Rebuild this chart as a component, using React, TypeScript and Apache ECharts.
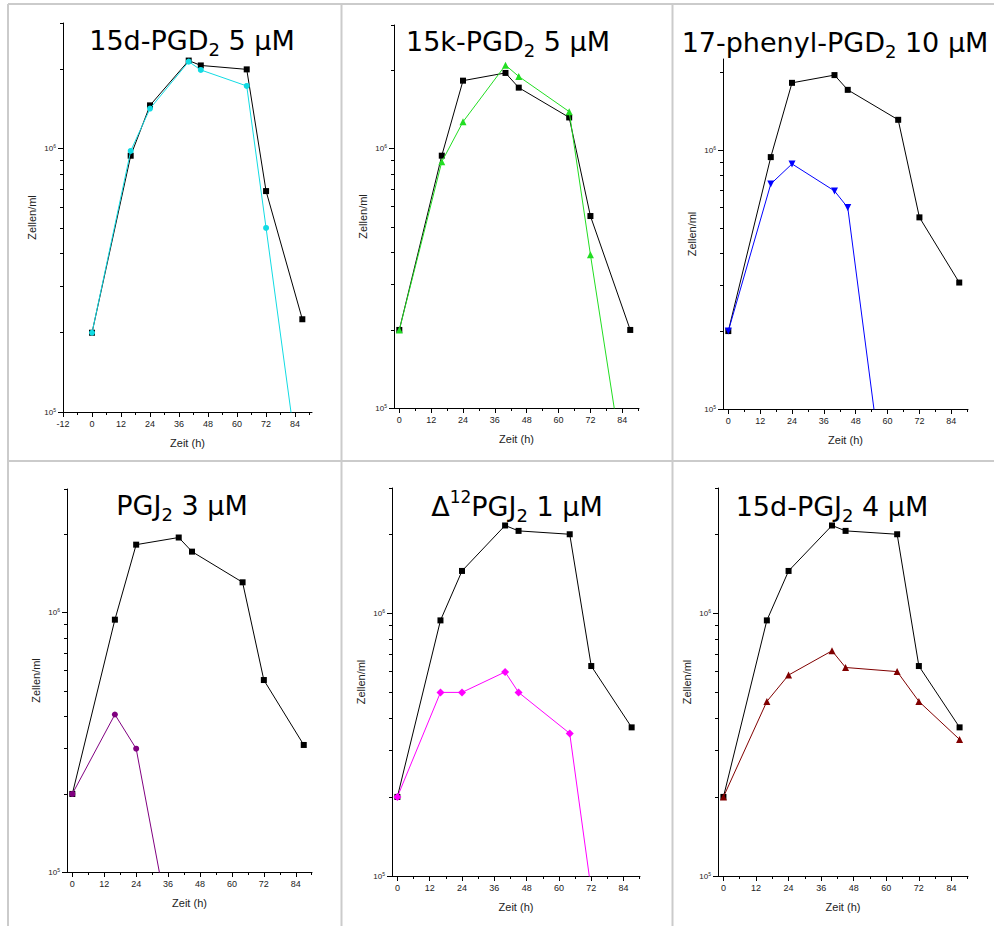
import React, { useEffect, useRef } from 'react';
import * as echarts from 'echarts';

// ---- data (cells/ml vs. hours) ----
const hours = [0, 16, 24, 40, 45, 64, 72, 87];

const control1 = [2.0e5, 9.4e5, 1.46e6, 2.16e6, 2.07e6, 2.0e6, 6.9e5, 2.25e5];
const treated1 = [2.0e5, 9.8e5, 1.42e6, 2.14e6, 1.99e6, 1.73e6, 5.0e5, 4.8e4];

const control2 = [2.0e5, 9.4e5, 1.83e6, 1.96e6, 1.72e6, 1.32e6, 5.5e5, 2.0e5];
const treated2 = [2.0e5, 8.9e5, 1.27e6, 2.1e6, 1.9e6, 1.39e6, 3.9e5, 4.0e4];

const control3 = [2.0e5, 9.4e5, 1.82e6, 1.95e6, 1.71e6, 1.31e6, 5.5e5, 3.08e5];
const treatedHours3 = [0, 16, 24, 40, 45, 64];
const treated3 = [2.0e5, 7.4e5, 8.85e5, 6.96e5, 6.0e5, 1.9e4];

const control4 = [2.0e5, 9.4e5, 1.83e6, 1.95e6, 1.72e6, 1.31e6, 5.5e5, 3.09e5];
const treatedHours4 = [0, 16, 24, 40];
const treated4 = [2.0e5, 4.05e5, 2.99e5, 4.0e4];

const control5 = [2.0e5, 9.4e5, 1.45e6, 2.16e6, 2.06e6, 2.0e6, 6.3e5, 3.68e5];
const treatedHours5 = [0, 16, 24, 40, 45, 64, 72];
const treated5 = [2.0e5, 5.0e5, 5.0e5, 5.98e5, 5.0e5, 3.49e5, 8.8e4];

const control6 = [2.0e5, 9.4e5, 1.45e6, 2.16e6, 2.06e6, 2.0e6, 6.3e5, 3.68e5];
const treated6 = [2.0e5, 4.62e5, 5.82e5, 7.2e5, 6.22e5, 6.0e5, 4.62e5, 3.31e5];

// ---- tick values ----
const xTickLabels = [0, 12, 24, 36, 48, 60, 72, 84];
const xTickLabelsWide = [-12, 0, 12, 24, 36, 48, 60, 72, 84];
const xMinorTicks = [6, 18, 30, 42, 54, 66, 78, 90];
const xMinorTicksWide = [-6, 6, 18, 30, 42, 54, 66, 78, 90];
const yMajorTicks = [1e5, 1e6];
const yMinorTicks = [2e5, 3e5, 4e5, 5e5, 6e5, 7e5, 8e5, 9e5, 2e6, 3e6];

const titles = [
  '{m|15d-PGD}{s|2}{m| 5 µM}',
  '{m|15k-PGD}{s|2}{m| 5 µM}',
  '{m|17-phenyl-PGD}{s|2}{m| 10 µM}',
  '{m|PGJ}{s|2}{m| 3 µM}',
  '{m|Δ}{p|12}{m|PGJ}{s|2}{m| 1 µM}',
  '{m|15d-PGJ}{s|2}{m| 4 µM}',
];

const panels = [
  { grid: [63, 23, 249, 389], xMin: -12, xMax: 91, yMax: 3e6, wide: true, tx: 192, ty: 40,
    ctrl: control1, tH: hours, tr: treated1, color: '#12dbe3', symbol: 'circle', rot: 0, size: 6 },
  { grid: [394, 25, 245, 383], xMin: -2, xMax: 90.3, yMax: 3e6, wide: false, tx: 508, ty: 41,
    ctrl: control2, tH: hours, tr: treated2, color: '#22dd22', symbol: 'triangle', rot: 0, size: 7 },
  { grid: [723, 59, 245, 350], xMin: -2, xMax: 90.3, yMax: 2.25e6, wide: false, tx: 835, ty: 42,
    ctrl: control3, tH: treatedHours3, tr: treated3, color: '#0000ff', symbol: 'triangle', rot: 180, size: 7 },
  { grid: [67, 489, 245, 383], xMin: -2, xMax: 90.1, yMax: 3e6, wide: false, tx: 182, ty: 505,
    ctrl: control4, tH: treatedHours4, tr: treated4, color: '#800080', symbol: 'circle', rot: 0, size: 6 },
  { grid: [392, 488, 248, 388], xMin: -2, xMax: 90.1, yMax: 3e6, wide: false, tx: 517, ty: 506,
    ctrl: control5, tH: treatedHours5, tr: treated5, color: '#ff00ff', symbol: 'diamond', rot: 0, size: 8 },
  { grid: [718, 488, 250, 388], xMin: -2, xMax: 90.1, yMax: 3e6, wide: false, tx: 832, ty: 506,
    ctrl: control6, tH: hours, tr: treated6, color: '#800000', symbol: 'triangle', rot: 0, size: 7 },
];

const FONT = 'Liberation Sans, Arial, sans-serif';
const TXT = '#222';

function buildOption() {
  const grid: any[] = [];
  const xAxis: any[] = [];
  const yAxis: any[] = [];
  const series: any[] = [];
  const graphic: any[] = [];

  const borderLines = [
    [8, 4, 994, 4],
    [8, 4, 8, 926],
    [341.5, 4, 341.5, 926],
    [672.5, 4, 672.5, 926],
    [8, 461, 994, 461],
  ];
  borderLines.forEach(([x1, y1, x2, y2]) =>
    graphic.push({
      type: 'line',
      shape: { x1, y1, x2, y2 },
      style: { stroke: '#cbcbcb', lineWidth: 2 },
      silent: true,
    })
  );

  panels.forEach((p, i) => {
    const [left, top, width, height] = p.grid;
    grid.push({ left, top, width, height, containLabel: false });

    // main x axis
    xAxis.push({
      type: 'value', gridIndex: i, min: p.xMin, max: p.xMax, position: 'bottom',
      name: 'Zeit (h)', nameLocation: 'middle', nameGap: 25,
      nameTextStyle: { fontSize: 11, fontFamily: FONT, color: TXT },
      axisLine: { onZero: false, lineStyle: { color: '#000', width: 1 } },
      axisTick: { customValues: p.wide ? xTickLabelsWide : xTickLabels, length: 5, lineStyle: { color: '#000' } },
      axisLabel: { customValues: p.wide ? xTickLabelsWide : xTickLabels, fontSize: 9, fontFamily: FONT, color: TXT, margin: 7 },
      splitLine: { show: false },
    });
    // minor x ticks
    xAxis.push({
      type: 'value', gridIndex: i, min: p.xMin, max: p.xMax, position: 'bottom',
      axisLine: { show: false, onZero: false },
      axisTick: { customValues: p.wide ? xMinorTicksWide : xMinorTicks, length: 3, lineStyle: { color: '#000' } },
      axisLabel: { show: false },
      splitLine: { show: false },
    });

    // main log y axis
    yAxis.push({
      type: 'log', logBase: 10, gridIndex: i, min: 1e5, max: p.yMax, position: 'left',
      name: 'Zellen/ml', nameLocation: 'middle', nameGap: 26,
      nameTextStyle: { fontSize: 11, fontFamily: FONT, color: TXT },
      axisLine: { onZero: false, lineStyle: { color: '#000', width: 1 } },
      axisTick: { show: false },
      axisLabel: {
        margin: 7,
        formatter: (v: number) => {
          const e = Math.log10(v);
          const r = Math.round(e);
          if (Math.abs(e - r) > 1e-6) return '';
          return `{b|10}{s|${r}}`;
        },
        rich: {
          b: { fontSize: 8, fontFamily: FONT, color: TXT, lineHeight: 10 },
          s: { fontSize: 5, fontFamily: FONT, color: TXT, lineHeight: 6, verticalAlign: 'top' },
        },
      },
      splitLine: { show: false },
    });
    const lmin = 5;
    const lmax = Math.log10(p.yMax);
    // minor y ticks
    yAxis.push({
      type: 'value', gridIndex: i, min: lmin, max: lmax, position: 'left',
      axisLine: { show: false, onZero: false },
      axisTick: {
        customValues: yMinorTicks.filter((t) => t <= p.yMax * 1.0001).map((t) => Math.log10(t)),
        length: 3, lineStyle: { color: '#000' },
      },
      axisLabel: { show: false },
      splitLine: { show: false },
    });
    // major y ticks
    yAxis.push({
      type: 'value', gridIndex: i, min: lmin, max: lmax, position: 'left',
      axisLine: { show: false, onZero: false },
      axisTick: { customValues: yMajorTicks.map((t) => Math.log10(t)), length: 5, lineStyle: { color: '#000' } },
      axisLabel: { show: false },
      splitLine: { show: false },
    });

    series.push({
      type: 'line', xAxisIndex: 2 * i, yAxisIndex: 3 * i, clip: true,
      data: hours.map((h, k) => [h, p.ctrl[k]]),
      symbol: 'rect', symbolSize: 6,
      lineStyle: { color: '#000', width: 1 },
      itemStyle: { color: '#000' },
      z: 2,
    });
    series.push({
      type: 'line', xAxisIndex: 2 * i, yAxisIndex: 3 * i, clip: true,
      data: p.tH.map((h, k) => [h, p.tr[k]]),
      symbol: p.symbol, symbolSize: p.size, symbolRotate: p.rot,
      lineStyle: { color: p.color, width: 1 },
      itemStyle: { color: p.color },
      z: 3,
    });

    graphic.push({
      type: 'text',
      silent: true,
      style: {
        x: p.tx, y: p.ty,
        text: titles[i],
        align: 'center', verticalAlign: 'middle',
        fill: '#000',
        rich: {
          m: { fontSize: 27, fontFamily: 'DejaVu Sans', fill: '#000', lineHeight: 36 },
          s: { fontSize: 18, fontFamily: 'DejaVu Sans', fill: '#000', lineHeight: 18, verticalAlign: 'bottom' },
          p: { fontSize: 17, fontFamily: 'DejaVu Sans', fill: '#000', lineHeight: 20, verticalAlign: 'top' },
        },
      },
    });
  });

  return {
    animation: false,
    backgroundColor: '#ffffff',
    grid, xAxis, yAxis, series, graphic,
  };
}

export default function App() {
  const ref = useRef<HTMLDivElement>(null);
  useEffect(() => {
    if (!ref.current) return;
    const chart = echarts.init(ref.current, null, { renderer: 'svg' });
    chart.setOption(buildOption() as any);
    return () => chart.dispose();
  }, []);
  return (
    <div
      ref={ref}
      style={{ position: 'absolute', left: 0, top: 0, width: 994, height: 926, background: '#fff' }}
    />
  );
}
